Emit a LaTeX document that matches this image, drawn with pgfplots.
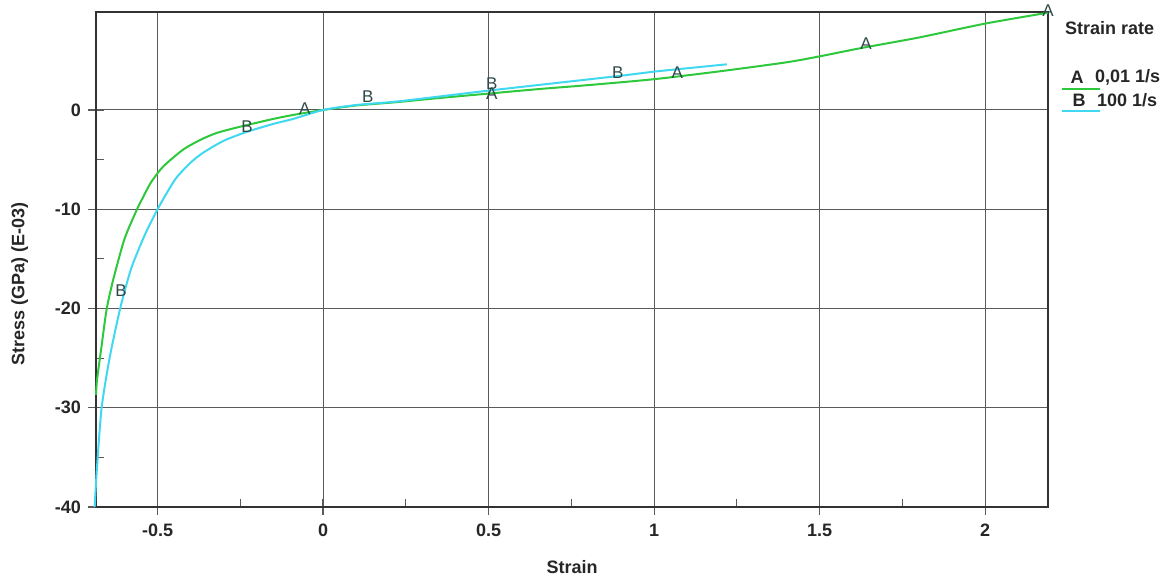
\documentclass[border=0pt]{standalone}
\usepackage{fontspec}
\setmainfont{Liberation Sans}
\usepackage{pgfplots}
\pgfplotsset{compat=1.18}
\definecolor{curveA}{HTML}{2DC83C}
\definecolor{curveB}{HTML}{3FD8F0}
\definecolor{gridgray}{HTML}{5A5A5A}
\definecolor{labelink}{HTML}{2F4848}

\begin{document}
\begin{tikzpicture}
\begin{axis}[
 scale only axis,width=476pt,height=247.5pt,
 xmin=-0.686,xmax=2.19,ymin=-40,ymax=9.87,
 xtick={-0.5,0,0.5,1,1.5,2},xticklabels={-0.5,0,0.5,1,1.5,2},
 ytick={-40,-30,-20,-10,0},yticklabels={-40,-30,-20,-10,0},
 minor x tick num=1,minor y tick num=1,
 xtick pos=bottom,ytick pos=left,
 tick align=center,major tick length=8pt,minor tick length=4pt,
 minor x tick style={yshift=2pt},minor y tick style={xshift=2pt},
 major tick style={gridgray,line width=0.6pt},minor tick style={gridgray,line width=0.5pt},
 grid=major,major grid style={draw=gridgray,line width=0.5pt},
 axis line style={draw=black!80,line width=0.7pt},
 tick label style={font=\bfseries\fontsize{9}{10}\selectfont,text=black!85},
 xticklabel style={yshift=-1pt},
 xlabel={Strain},ylabel={Stress (GPa) (E-03)},
 label style={font=\bfseries\fontsize{9}{10}\selectfont,text=black!85},
 xlabel style={at={(axis description cs:0.5,0)},anchor=center,yshift=-30pt},
 ylabel style={at={(axis description cs:-0.08,0.45)},anchor=center,rotate=0},
 clip=false,
 ]
% curve A: 0,01 1/s
\addplot[curveA,line width=1pt,smooth,tension=0.4] coordinates {
(-0.686,-28.7) (-0.683,-27.2) (-0.670,-24.0) (-0.654,-20.1) (-0.634,-17.1)
(-0.600,-13.0) (-0.562,-10.0) (-0.548,-9.06) (-0.520,-7.3) (-0.483,-5.7)
(-0.423,-4.0) (-0.370,-3.0) (-0.320,-2.3) (-0.240,-1.6) (-0.150,-0.9)
(-0.090,-0.5) (0,0) (0.10,0.45) (0.22,0.78) (0.35,1.2) (0.50,1.65)
(0.65,2.1) (0.80,2.5) (1.00,3.1) (1.20,3.9) (1.40,4.8) (1.50,5.4)
(1.62,6.2) (1.80,7.3) (2.00,8.7) (2.19,9.8)};
% curve B: 100 1/s
\addplot[curveB,line width=1pt,smooth,tension=0.4] coordinates {
(-0.690,-40.0) (-0.683,-36.0) (-0.669,-30.0) (-0.645,-25.0) (-0.613,-20.0)
(-0.580,-16.0) (-0.540,-12.7) (-0.500,-10.0) (-0.447,-7.0) (-0.400,-5.3)
(-0.362,-4.3) (-0.300,-3.1) (-0.230,-2.2) (-0.150,-1.4) (-0.090,-0.9)
(0,0) (0.10,0.5) (0.22,0.84) (0.35,1.35) (0.50,1.95) (0.70,2.7)
(0.90,3.45) (1.00,3.86) (1.10,4.2) (1.22,4.6)};
% curve letters
\addplot[only marks,mark=text,
 text mark={\fontsize{8.5}{9}\selectfont\textcolor{labelink}{A}}] coordinates {
(-0.055,0.1) (0.51,1.6) (1.07,3.8) (1.64,6.7) (2.19,10.0)};
\addplot[only marks,mark=text,
 text mark={\fontsize{8.5}{9}\selectfont\textcolor{labelink}{B}}] coordinates {
(-0.61,-18.2) (-0.23,-1.7) (0.135,1.3) (0.51,2.7) (0.89,3.8)};
\end{axis}
% legend
\node[anchor=west,font=\bfseries\fontsize{9}{10}\selectfont,text=black!85] at (481pt,239.5pt) {Strain rate};
\draw[curveA,line width=1pt] (483pt,209pt) -- (502pt,209pt);
\draw[curveB,line width=1pt] (483pt,198pt) -- (502pt,198pt);
\node[font=\bfseries\fontsize{9}{10}\selectfont,text=black!85] at (490.5pt,215pt) {A};
\node[anchor=west,font=\bfseries\fontsize{9}{10}\selectfont,text=black!85] at (496pt,215pt) {0,01 1/s};
\node[font=\bfseries\fontsize{9}{10}\selectfont,text=black!85] at (491.5pt,203.5pt) {B};
\node[anchor=west,font=\bfseries\fontsize{9}{10}\selectfont,text=black!85] at (497pt,203.5pt) {100 1/s};
\pgfresetboundingbox
\path (-48pt,-38pt) rectangle (537pt,253.5pt);
\end{tikzpicture}
\end{document}
